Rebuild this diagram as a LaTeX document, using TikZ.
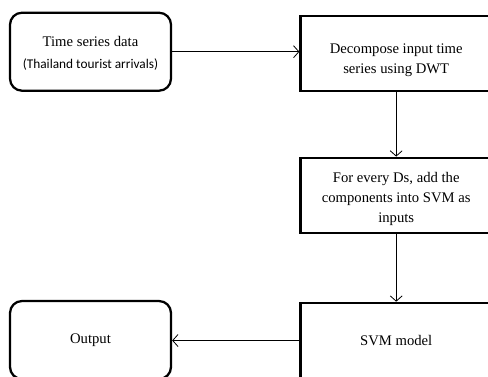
\documentclass[tikz,border=0pt]{standalone}
\usepackage{fontspec}
\setmainfont{Liberation Serif}
\newfontfamily\calfont{Carlito}
\usetikzlibrary{arrows.meta,positioning}

\begin{document}
\begin{tikzpicture}[x=0.75pt,y=-0.75pt,
	roundbox/.style={draw,line width=1.7pt,rounded corners=9pt,minimum width=120.75pt,align=center,font=\fontsize{11}{15}\selectfont},
	squarebox/.style={draw,line width=1.7pt,minimum width=143.5pt,minimum height=56.5pt,align=center,font=\fontsize{11}{15}\selectfont},
	flow/.style={line width=0.6pt,-{Straight Barb[length=4pt,width=9pt]}}]
	\clip (0,0) rectangle (488,376);
	\node[roundbox,minimum height=58.5pt] (data) at (90.5,51.7) {\rule{0pt}{10pt}Time series data\\[1.5pt]{\calfont\fontsize{10}{11}\selectfont (Thailand tourist arrivals)}};
	\node[squarebox] (dwt) at (396.2,53.5) {\rule{0pt}{18pt}Decompose input time\\series using DWT};
	\node[squarebox] (ds) at (396.2,195.4) {\rule{0pt}{12.5pt}For every Ds, add the\\components into SVM as\\inputs};
	\node[squarebox] (svm) at (396.2,340.5) {SVM model};
	\node[roundbox,minimum height=58.5pt] (out) at (90.5,340) {Output};
	\draw[flow] (data.east) -- (data.east -| dwt.west);
	\draw[flow] (dwt) -- (ds);
	\draw[flow] (ds) -- (svm);
	\draw[flow] (svm.west) -- (svm.west -| out.east);
\end{tikzpicture}
\end{document}
